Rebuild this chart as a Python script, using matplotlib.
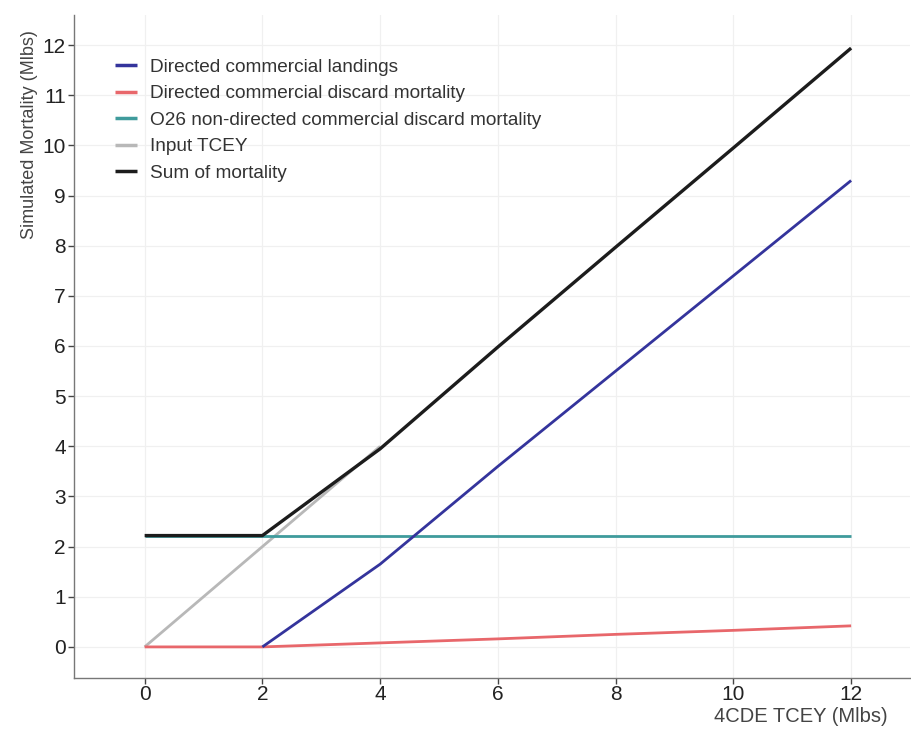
import matplotlib
matplotlib.use("Agg")
import matplotlib.pyplot as plt
from matplotlib.ticker import MultipleLocator

plt.rcParams['font.family'] = ['Liberation Sans', 'DejaVu Sans']

tcey = [0, 2, 4, 6, 8, 10, 12]
landings = [0, 0, 1.65, 3.6, 5.5, 7.4, 9.3]
discard_directed = [0, 0, 0.08, 0.16, 0.25, 0.33, 0.42]
discard_o26 = [2.22, 2.22, 2.22, 2.22, 2.22, 2.22, 2.22]
input_x = [0, 2, 4]
input_tcey = [0, 2, 4]
total = [2.22, 2.22, 3.95, 5.98, 7.97, 9.95, 11.94]

labels = ["Directed commercial landings",
          "Directed commercial discard mortality",
          "O26 non-directed commercial discard mortality",
          "Input TCEY",
          "Sum of mortality"]
colors = ["#34349c", "#e8676b", "#3f9b9c", "#b8b8b8", "#1c1c1c"]

fig = plt.figure(figsize=(9.11, 7.3), dpi=100)
ax = fig.add_axes([74/911, 1-678/730, 836/911, (678-15)/730])

lw = 2.0
ax.plot(input_x, input_tcey, color=colors[3], lw=lw, label=labels[3], zorder=2, solid_capstyle='butt')
ax.plot(tcey, discard_o26, color=colors[2], lw=lw, label=labels[2], zorder=3, solid_capstyle='butt')
ax.plot(tcey, discard_directed, color=colors[1], lw=lw, label=labels[1], zorder=4, solid_capstyle='butt')
ax.plot(tcey[1:], landings[1:], color=colors[0], lw=lw, label=labels[0], zorder=5, solid_capstyle='butt')
ax.plot(tcey, total, color=colors[4], lw=2.4, label=labels[4], zorder=6, solid_capstyle='butt')

ax.set_xlim(-1.2, 13.0)
ax.set_ylim(-0.62, 12.6)
ax.xaxis.set_major_locator(MultipleLocator(2))
ax.yaxis.set_major_locator(MultipleLocator(1))
ax.grid(which='major', color='#f0f0f0', lw=0.9)
ax.set_axisbelow(True)
for s in ['top', 'right']:
    ax.spines[s].set_visible(False)
for s in ['left', 'bottom']:
    ax.spines[s].set_color('#777777')
    ax.spines[s].set_linewidth(1.0)
ax.tick_params(which='major', length=4, width=1, color='#444444', labelsize=15, labelcolor='#222222', pad=2)
ax.tick_params(axis='x', pad=1)

handles, labs = ax.get_legend_handles_labels()
order = [labs.index(l) for l in labels]
leg = ax.legend([handles[i] for i in order], [labs[i] for i in order],
                loc='upper left', bbox_to_anchor=(0.028, 0.96), frameon=False,
                fontsize=13.7, labelcolor='#333333', handlelength=1.2, handletextpad=0.65,
                labelspacing=0.48)
for h in leg.legend_handles:
    h.set_linewidth(2.5)

fig.text(30/911, 1-30/730, "Simulated Mortality (Mlbs)", rotation=90, ha='center', va='top',
         fontsize=13, color='#444444')
fig.text(888/911, 1-717/730, "4CDE TCEY (Mlbs)", ha='right', va='center',
         fontsize=14.5, color='#444444')

fig.savefig("out.png", dpi=100)
